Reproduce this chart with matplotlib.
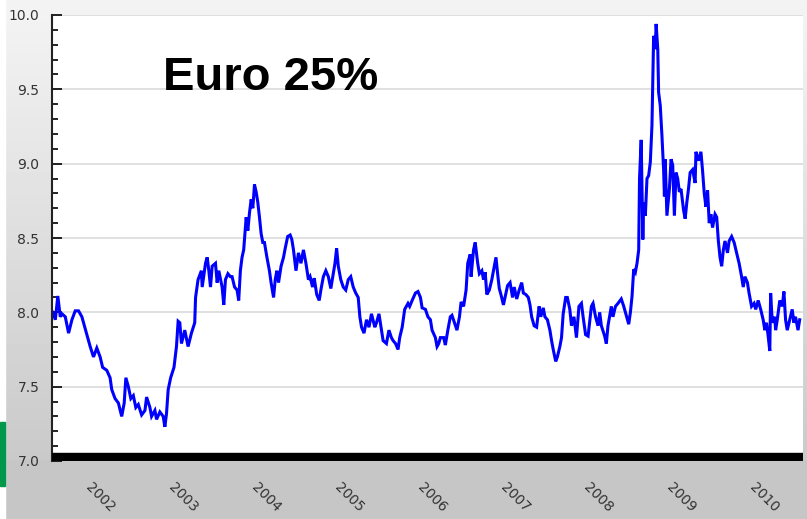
import matplotlib
matplotlib.use("Agg")
import matplotlib.pyplot as plt
from matplotlib.patches import Rectangle
from matplotlib.ticker import MultipleLocator, FormatStrFormatter
import numpy as np

# decimal year of each traced point
years = [
    2001.43, 2001.46, 2001.49, 2001.52, 2001.54, 2001.58, 2001.62, 2001.66, 2001.70, 2001.74,
    2001.78, 2001.80, 2001.84, 2001.88, 2001.92, 2001.96, 2002.00, 2002.03, 2002.08, 2002.12,
    2002.14, 2002.18, 2002.22, 2002.26, 2002.29, 2002.31, 2002.34, 2002.37, 2002.40, 2002.43,
    2002.46, 2002.50, 2002.54, 2002.56, 2002.60, 2002.62, 2002.66, 2002.68, 2002.72, 2002.76,
    2002.78, 2002.80, 2002.82, 2002.85, 2002.89, 2002.92, 2002.94, 2002.96,
    2002.98, 2003.02, 2003.06, 2003.10, 2003.14, 2003.15, 2003.18, 2003.22, 2003.23, 2003.27,
    2003.29, 2003.31, 2003.33, 2003.35, 2003.39, 2003.41, 2003.43, 2003.47, 2003.49, 2003.51,
    2003.54, 2003.57, 2003.59, 2003.62, 2003.65, 2003.67, 2003.69, 2003.71, 2003.73, 2003.76,
    2003.78, 2003.80, 2003.82, 2003.84, 2003.86, 2003.88, 2003.90, 2003.92, 2003.94, 2003.96,
    2003.98, 2004.01, 2004.04, 2004.06, 2004.09, 2004.11, 2004.13, 2004.15, 2004.18, 2004.21,
    2004.23, 2004.26, 2004.29, 2004.31, 2004.33, 2004.36, 2004.39, 2004.42, 2004.45, 2004.48,
    2004.51,
    2004.53, 2004.56, 2004.58, 2004.61, 2004.64, 2004.66, 2004.69, 2004.72, 2004.75, 2004.78,
    2004.81, 2004.83, 2004.85, 2004.87, 2004.90, 2004.93, 2004.96, 2004.99, 2005.02, 2005.05,
    2005.08, 2005.11, 2005.13, 2005.15, 2005.18, 2005.21, 2005.24, 2005.27, 2005.31, 2005.33,
    2005.36, 2005.39, 2005.41, 2005.45, 2005.48, 2005.51, 2005.53, 2005.56, 2005.59, 2005.61,
    2005.64, 2005.67, 2005.71, 2005.73, 2005.76, 2005.80, 2005.83, 2005.86, 2005.88, 2005.92,
    2005.95, 2005.98, 2006.00, 2006.04, 2006.06, 2006.08,
    2006.10, 2006.14, 2006.16, 2006.19, 2006.22, 2006.24, 2006.27, 2006.30, 2006.33, 2006.35,
    2006.38, 2006.41, 2006.43, 2006.46, 2006.47, 2006.50, 2006.52, 2006.55, 2006.57, 2006.60,
    2006.62, 2006.64, 2006.66, 2006.69, 2006.72, 2006.75, 2006.77, 2006.79, 2006.81, 2006.83,
    2006.86, 2006.89, 2006.91, 2006.94, 2006.97, 2006.99, 2007.02, 2007.05, 2007.08, 2007.10,
    2007.13, 2007.16, 2007.18, 2007.20, 2007.23, 2007.26, 2007.29, 2007.31, 2007.34, 2007.36,
    2007.39, 2007.42, 2007.44, 2007.46, 2007.49, 2007.51, 2007.54, 2007.56, 2007.58, 2007.61,
    2007.63, 2007.66,
    2007.68, 2007.71, 2007.74, 2007.77, 2007.80, 2007.82, 2007.85, 2007.88, 2007.92, 2007.94,
    2007.97, 2008.00, 2008.02, 2008.04, 2008.08, 2008.10, 2008.12, 2008.16, 2008.18, 2008.21,
    2008.24, 2008.28, 2008.31, 2008.33, 2008.37, 2008.39, 2008.41, 2008.43, 2008.45, 2008.47,
    2008.49, 2008.50, 2008.52, 2008.54, 2008.55, 2008.57, 2008.59, 2008.61, 2008.63, 2008.64,
    2008.65, 2008.67, 2008.69, 2008.70, 2008.72, 2008.73, 2008.75, 2008.77, 2008.79, 2008.80,
    2008.81, 2008.83, 2008.86, 2008.88, 2008.90, 2008.92, 2008.94, 2008.96, 2008.98, 2009.00,
    2009.03, 2009.05, 2009.07, 2009.09, 2009.11, 2009.14, 2009.17,
    2009.18, 2009.21, 2009.24, 2009.26, 2009.28, 2009.30, 2009.32, 2009.34, 2009.36, 2009.38,
    2009.41, 2009.43, 2009.45, 2009.47, 2009.49, 2009.51, 2009.53, 2009.56, 2009.58, 2009.61,
    2009.64, 2009.67, 2009.70, 2009.73, 2009.75, 2009.77, 2009.80, 2009.82, 2009.85, 2009.88,
    2009.90, 2009.93, 2009.96, 2009.99, 2010.01, 2010.03, 2010.05, 2010.07, 2010.08, 2010.10,
    2010.13, 2010.14, 2010.16, 2010.19, 2010.22, 2010.24, 2010.26, 2010.28, 2010.31, 2010.34,
    2010.36, 2010.38, 2010.41, 2010.43,
]

rate = [
    8.00, 7.95, 8.11, 7.97, 7.99, 7.97, 7.86, 7.95, 8.01, 8.01,
    7.97, 7.93, 7.85, 7.77, 7.70, 7.76, 7.70, 7.63, 7.61, 7.56,
    7.48, 7.42, 7.39, 7.30, 7.39, 7.56, 7.50, 7.42, 7.44, 7.36,
    7.38, 7.31, 7.34, 7.43, 7.36, 7.30, 7.34, 7.28, 7.33, 7.30,
    7.23, 7.32, 7.48, 7.56, 7.63, 7.77, 7.94, 7.93,
    7.79, 7.88, 7.77, 7.86, 7.93, 8.10, 8.22, 8.28, 8.17, 8.33,
    8.37, 8.28, 8.17, 8.31, 8.33, 8.20, 8.28, 8.17, 8.05, 8.22,
    8.26, 8.24, 8.24, 8.17, 8.15, 8.08, 8.28, 8.37, 8.42, 8.64,
    8.55, 8.67, 8.76, 8.70, 8.86, 8.81, 8.74, 8.64, 8.53, 8.47,
    8.47, 8.37, 8.28, 8.20, 8.10, 8.22, 8.28, 8.20, 8.31, 8.37,
    8.43, 8.51, 8.52, 8.49, 8.42, 8.28, 8.40, 8.33, 8.42, 8.33,
    8.22,
    8.24, 8.17, 8.23, 8.12, 8.08, 8.15, 8.24, 8.28, 8.24, 8.16,
    8.26, 8.33, 8.43, 8.31, 8.22, 8.17, 8.15, 8.22, 8.24, 8.17,
    8.13, 8.10, 7.97, 7.90, 7.86, 7.95, 7.90, 7.99, 7.90, 7.93,
    7.99, 7.88, 7.81, 7.79, 7.88, 7.83, 7.81, 7.79, 7.75, 7.83,
    7.90, 8.02, 8.06, 8.04, 8.08, 8.13, 8.14, 8.10, 8.03, 8.02,
    7.97, 7.95, 7.88, 7.83, 7.77, 7.79,
    7.83, 7.83, 7.78, 7.88, 7.97, 7.98, 7.93, 7.88, 7.97, 8.07,
    8.04, 8.15, 8.33, 8.39, 8.24, 8.42, 8.47, 8.33, 8.26, 8.28,
    8.22, 8.27, 8.12, 8.15, 8.22, 8.31, 8.37, 8.26, 8.16, 8.12,
    8.05, 8.13, 8.18, 8.20, 8.10, 8.17, 8.09, 8.15, 8.20, 8.13,
    8.12, 8.10, 8.05, 7.97, 7.91, 7.90, 8.04, 7.97, 8.03, 7.97,
    7.95, 7.88, 7.81, 7.75, 7.67, 7.70, 7.77, 7.83, 7.99, 8.10,
    8.10, 8.02,
    7.91, 7.97, 7.83, 8.04, 8.06, 7.97, 7.85, 7.84, 8.04, 8.06,
    7.97, 7.91, 8.00, 7.91, 7.84, 7.79, 7.91, 8.04, 7.97, 8.04,
    8.06, 8.09, 8.04, 8.00, 7.92, 8.00, 8.11, 8.29, 8.27, 8.33,
    8.42, 8.90, 9.16, 8.49, 8.74, 8.65, 8.90, 8.92, 9.01, 9.14,
    9.26, 9.86, 9.77, 9.94, 9.77, 9.48, 9.39, 9.19, 8.96, 8.78,
    9.03, 8.65, 8.83, 9.03, 8.99, 8.65, 8.94, 8.90, 8.81, 8.83,
    8.69, 8.63, 8.74, 8.83, 8.94, 8.96, 8.87,
    9.08, 9.02, 9.08, 8.95, 8.80, 8.71, 8.82, 8.60, 8.66, 8.57,
    8.66, 8.64, 8.48, 8.37, 8.31, 8.42, 8.48, 8.40, 8.48, 8.51,
    8.47, 8.40, 8.33, 8.24, 8.17, 8.24, 8.20, 8.13, 8.04, 8.06,
    8.02, 8.08, 8.02, 7.95, 7.88, 7.93, 7.84, 7.74, 8.13, 7.93,
    7.97, 7.88, 7.95, 8.08, 8.04, 8.14, 7.95, 7.88, 7.95, 8.02,
    7.93, 7.97, 7.88, 7.95,
]

year_ticks = [2002, 2003, 2004, 2005, 2006, 2007, 2008, 2009, 2010]
title = "Euro 25%"

fig = plt.figure(figsize=(8.07, 5.19), dpi=100)

# grey gradient background behind everything
bg = fig.add_axes([0, 0, 1, 1], zorder=-5)
shade = np.clip(np.linspace(244, 196, 519) / 255.0, 0, 1)
shade[460:] = 198 / 255.0
bg.imshow(np.tile(shade[:, None], (1, 10)), cmap="gray", vmin=0, vmax=1,
          aspect="auto", extent=[0, 1, 0, 1])
bg.set_axis_off()
fig.patches.append(Rectangle((0, 0), 5 / 807, 1, transform=fig.transFigure,
                             color="white", zorder=-4))
fig.patches.append(Rectangle((0, 33 / 519), 5 / 807, 64 / 519, transform=fig.transFigure,
                             color="#00994c", zorder=-3))

ax = fig.add_axes([52 / 807, 58 / 519, 751 / 807, 446 / 519])
ax.set_facecolor("white")
ax.plot(years, rate, color="#0000ff", lw=2.2, solid_joinstyle="miter")
ax.axhspan(7.0, 7.054, color="black", zorder=3)

ax.set_xlim(2001.42, 2010.47)
ax.set_ylim(7.0, 10.0)
ax.yaxis.set_major_locator(MultipleLocator(0.5))
ax.yaxis.set_minor_locator(MultipleLocator(0.1))
ax.yaxis.set_major_formatter(FormatStrFormatter("%.1f"))
ax.grid(axis="y", color="#dadada", lw=1.2)
ax.set_axisbelow(True)

ax.set_xticks(year_ticks)
ax.set_xticklabels([str(y) for y in year_ticks], rotation=-45, ha="center", va="top")
ax.tick_params(axis="x", length=0, pad=14, labelsize=10, labelcolor="#333333")
ax.tick_params(axis="y", which="major", direction="in", length=7, width=1.2,
               pad=9, labelsize=10, labelcolor="#333333")
ax.tick_params(axis="y", which="minor", direction="in", length=4, width=1.2)

for s in ["top", "right", "bottom"]:
    ax.spines[s].set_visible(False)
ax.spines["left"].set_linewidth(1.5)
ax.spines["left"].set_color("#222222")

ax.text(0.148, 0.832, title, transform=ax.transAxes, fontsize=34,
        fontweight="bold", family="Liberation Sans", va="baseline", ha="left")

fig.savefig("out.png", dpi=100)
